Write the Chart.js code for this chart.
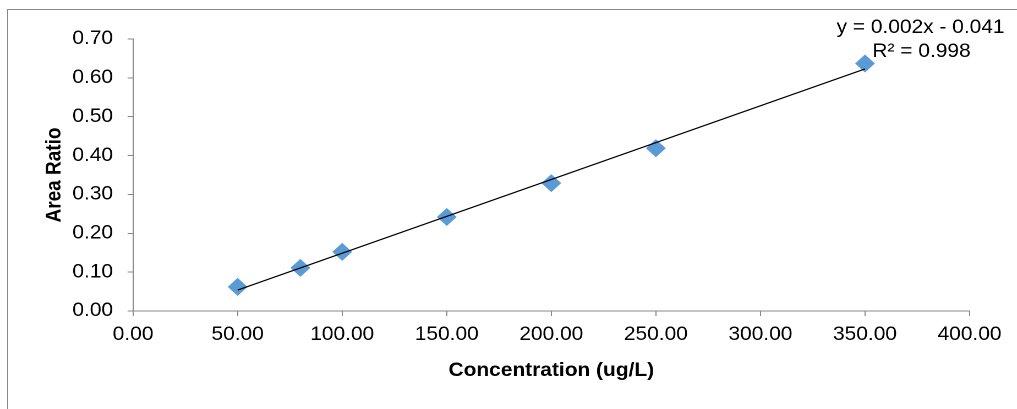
<!DOCTYPE html>
<html>
<head>
<meta charset="utf-8">
<script src="https://cdn.jsdelivr.net/npm/chart.js@4"></script>
<style>
  html, body { margin: 0; padding: 0; background: #fff; overflow: hidden; }
  body { width: 1017px; height: 409px; position: relative; }
  /* grey frame round the chart, runs off the right and bottom edge */
  .frame { position: absolute; left: 7px; top: 9px; width: 1100px; height: 500px; border: 1px solid #888; }
  /* the original picture is stretched a bit sideways */
  .wrap { position: absolute; left: 0; top: 0; width: 924.5px; height: 409px; transform: scaleX(1.1); transform-origin: 0 0; }
</style>
</head>
<body>
<div class="frame"></div>
<div class="wrap"><canvas id="calChart"></canvas></div>
<script>
// 数据
const concentrations = [50, 80, 100, 150, 200, 250, 350];
const areaRatios = [0.062, 0.111, 0.152, 0.242, 0.329, 0.419, 0.637];
// 趋势线两端
const trendX = [50, 350];
const trendY = [0.054, 0.623];
const trendLabels = ['y = 0.002x - 0.041', 'R\u00b2 = 0.998'];
const xTitle = 'Concentration (ug/L)';
const yTitle = 'Area Ratio';

const font = '"Liberation Sans", Arial, sans-serif';
const axisGrey = '#888888';

// 趋势线公式文字
const equationPlugin = {
    id: 'equation',
    afterDraw(chart) {
        const ctx = chart.ctx;
        const area = chart.chartArea;
        ctx.save();
        ctx.font = '19px ' + font;
        ctx.fillStyle = '#000';
        ctx.textAlign = 'center';
        ctx.textBaseline = 'middle';
        ctx.fillText(trendLabels[0], area.right - 44.5, 28);
        ctx.fillText(trendLabels[1], area.right - 43.6, 52);
        ctx.restore();
    }
};

const ctx = document.getElementById('calChart').getContext('2d');
const calChart = new Chart(ctx, {
    type: 'scatter',
    data: {
        datasets: [{
            type: 'line',
            label: 'trend',
            data: trendX.map((x, i) => ({ x: x, y: trendY[i] })),
            borderColor: '#000',
            borderWidth: 1.2,
            pointRadius: 0,
            fill: false,
            order: 0
        }, {
            label: 'Area Ratio',
            data: concentrations.map((x, i) => ({ x: x, y: areaRatios[i] })),
            pointStyle: 'rectRot',
            pointRadius: 9,
            pointHoverRadius: 9,
            pointBackgroundColor: '#5B9BD5',
            pointBorderWidth: 0,
            borderWidth: 0,
            order: 1
        }]
    },
    options: {
        responsive: true,
        maintainAspectRatio: false,
        devicePixelRatio: 2,
        animation: false,
        layout: { padding: { left: 0, right: 43.6, top: 39, bottom: 0 } },
        plugins: {
            legend: { display: false },
            tooltip: { enabled: false }
        },
        scales: {
            x: {
                type: 'linear',
                min: 0,
                max: 400,
                afterFit: scale => { scale.height = 98; },
                ticks: {
                    stepSize: 50,
                    padding: 7.6,
                    color: '#000',
                    font: { family: font, size: 19 },
                    maxRotation: 0,
                    callback: v => v.toFixed(2)
                },
                grid: { display: true, drawOnChartArea: false, drawTicks: true, tickLength: 5, color: axisGrey },
                border: { display: true, color: axisGrey },
                title: {
                    display: true,
                    text: xTitle,
                    color: '#000',
                    font: { family: font, size: 19, weight: 'bold' },
                    padding: { top: 0, bottom: 26.6 }
                }
            },
            y: {
                min: 0,
                max: 0.7,
                afterFit: scale => { scale.width = 120.9; },
                ticks: {
                    stepSize: 0.1,
                    padding: 13.2,
                    color: '#000',
                    font: { family: font, size: 19 },
                    callback: v => v.toFixed(2)
                },
                grid: { display: true, drawOnChartArea: false, drawTicks: true, tickLength: 5, color: axisGrey },
                border: { display: true, color: axisGrey },
                title: {
                    display: true,
                    text: yTitle,
                    color: '#000',
                    font: { family: font, size: 19, weight: 'bold' },
                    padding: { top: 38.6, bottom: 0 }
                }
            }
        }
    },
    plugins: [equationPlugin]
});
</script>
</body>
</html>
